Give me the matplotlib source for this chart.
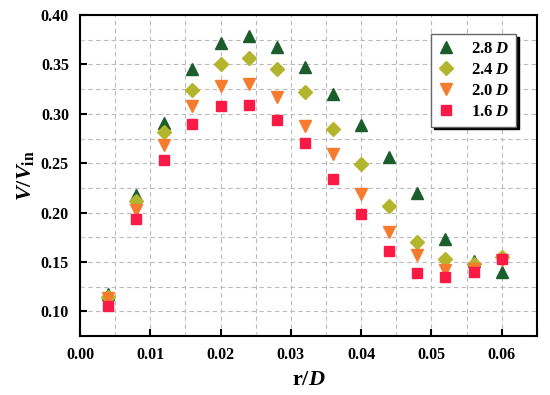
import matplotlib
matplotlib.use('Agg')
import matplotlib.pyplot as plt
from matplotlib.ticker import MultipleLocator

plt.rcParams['font.family'] = 'Liberation Serif'
plt.rcParams['font.weight'] = 'bold'
plt.rcParams['axes.labelweight'] = 'bold'
plt.rcParams['mathtext.fontset'] = 'custom'
plt.rcParams['mathtext.rm'] = 'Liberation Serif:bold'
plt.rcParams['mathtext.bf'] = 'Liberation Serif:bold'
plt.rcParams['mathtext.it'] = 'Liberation Serif:italic:bold'

# data
r_D = [0.004, 0.008, 0.012, 0.016, 0.020, 0.024, 0.028, 0.032,
       0.036, 0.040, 0.044, 0.048, 0.052, 0.056, 0.060]
v28 = [0.118, 0.218, 0.291, 0.345, 0.372, 0.379, 0.368, 0.347,
       0.320, 0.289, 0.256, 0.220, 0.173, 0.151, 0.140]
v24 = [0.115, 0.212, 0.282, 0.324, 0.350, 0.356, 0.345, 0.322,
       0.285, 0.249, 0.207, 0.170, 0.153, 0.148, 0.155]
v20 = [0.114, 0.203, 0.268, 0.308, 0.328, 0.330, 0.317, 0.288,
       0.259, 0.219, 0.180, 0.157, 0.142, 0.143, 0.152]
v16 = [0.106, 0.194, 0.253, 0.290, 0.308, 0.309, 0.294, 0.270,
       0.234, 0.199, 0.161, 0.139, 0.135, 0.140, 0.153]
labels = ['2.8 $D$', '2.4 $D$', '2.0 $D$', '1.6 $D$']

fig = plt.figure(figsize=(5.5, 3.95), dpi=100)
ax = fig.add_axes([0.1455, 0.149, 0.8305, 0.813])

ax.plot(r_D, v28, ls='none', marker='^', ms=9, color='#1b5e2b', label=labels[0], zorder=3)
ax.plot(r_D, v24, ls='none', marker='D', ms=7.5, color='#b3b52c', label=labels[1], zorder=3)
ax.plot(r_D, v20, ls='none', marker='v', ms=9, color='#f77b2e', label=labels[2], zorder=3)
ax.plot(r_D, v16, ls='none', marker='s', ms=7, color='#fa1a45', label=labels[3], zorder=3)

ax.set_xlim(0, 0.065)
ax.set_ylim(0.075, 0.40)
ax.xaxis.set_major_locator(MultipleLocator(0.01))
ax.xaxis.set_minor_locator(MultipleLocator(0.005))
ax.yaxis.set_major_locator(MultipleLocator(0.05))
ax.yaxis.set_minor_locator(MultipleLocator(0.025))
ax.xaxis.set_major_formatter(plt.FormatStrFormatter('%.2f'))
ax.yaxis.set_major_formatter(plt.FormatStrFormatter('%.2f'))

ax.grid(which='both', color='#bbbbbb', ls=(0, (4, 3)), lw=0.8)
ax.tick_params(which='major', direction='in', length=5, width=1.5, labelsize=11.5, pad=8)
ax.tick_params(which='minor', direction='in', length=3, width=0.8, color='#cccccc')
for s in ax.spines.values():
    s.set_linewidth(1.5)

ax.set_xlabel('r/$D$', fontsize=16, labelpad=5)
ax.set_ylabel(r'$V/V_{\mathrm{in}}$', fontsize=16, labelpad=3)

leg = ax.legend(loc='upper right', bbox_to_anchor=(0.955, 0.94), fontsize=12,
                frameon=True, fancybox=False, edgecolor='#666666', framealpha=1,
                shadow={'color': 'black', 'alpha': 1}, handlelength=1.0,
                handletextpad=1.0, borderpad=0.4, labelspacing=0.3,
                borderaxespad=0)
leg.get_frame().set_linewidth(1.0)

plt.savefig('out.png')
